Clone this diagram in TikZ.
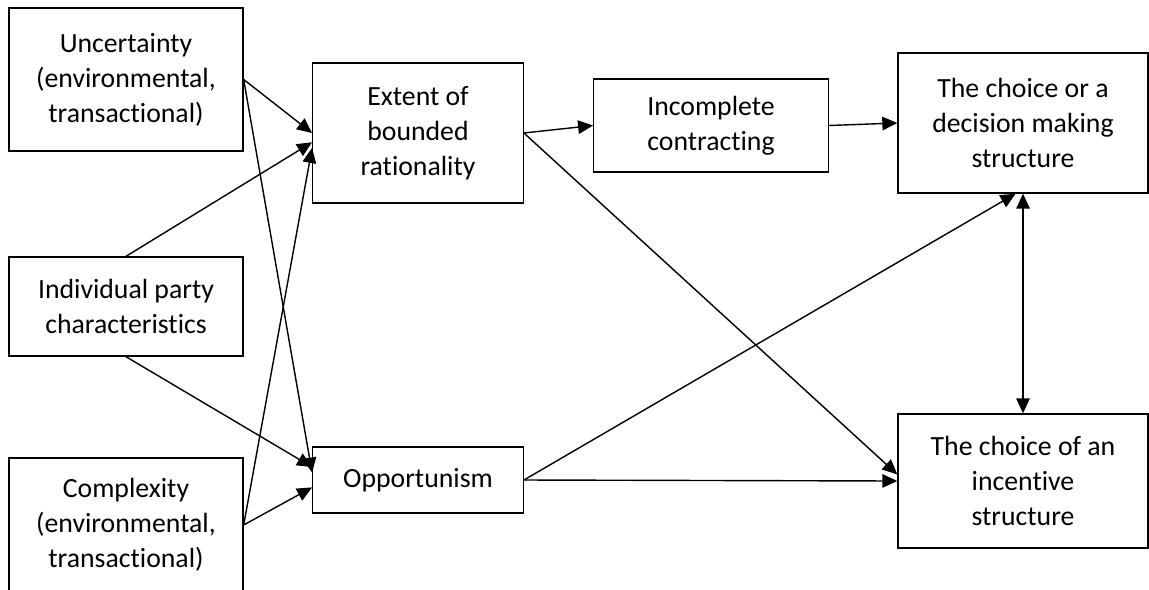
\documentclass[tikz,border=0pt]{standalone}
\usepackage{fontspec}
\setmainfont{Carlito}[Ligatures=NoCommon]
\usetikzlibrary{arrows.meta,positioning}

\begin{document}
\begin{tikzpicture}[x=0.02cm,y=-0.02cm,
  box/.style={draw,line width=0.8pt,align=center,inner sep=0pt,font=\fontsize{15.8}{19.9}\selectfont},
  arr/.style={-{Triangle[length=0.3cm,width=0.27cm]},line width=0.8pt},
  darr/.style={{Triangle[length=0.3cm,width=0.27cm]}-{Triangle[length=0.3cm,width=0.27cm]},line width=0.8pt}]
\useasboundingbox (0,0) rectangle (1149,589);
\node[box,minimum width=4.68cm,minimum height=2.86cm] (unc) at (126,79.5) {Uncertainty\\(environmental,\\transactional)};
\node[box,minimum width=4.68cm,minimum height=1.98cm] (ind) at (126,306.5) {Individual party\\characteristics};
\node[box,minimum width=4.68cm,minimum height=2.68cm] (cpx) at (126,525) {Complexity\\(environmental,\\transactional)};
\node[box,minimum width=4.21cm,minimum height=2.8cm] (ext) at (418,133) {Extent of\\bounded\\rationality};
\node[box,minimum width=4.21cm,minimum height=1.32cm] (opp) at (418,480) {Opportunism};
\node[box,minimum width=4.69cm,minimum height=1.86cm] (inc) at (711,125.5) {Incomplete\\contracting};
\node[box,minimum width=5cm,minimum height=2.8cm] (dec) at (1023,123) {The choice or a\\decision making\\structure};
\node[box,minimum width=5cm,minimum height=2.68cm] (icv) at (1023,481) {The choice of an\\incentive\\structure};
\draw[arr] (unc.east) -- (ext.west);
\draw[arr] (unc.east) -- (opp.176);
\draw[arr] (ind.north) -- (ext.185);
\draw[arr] (ind.south) -- (opp.173);
\draw[arr] (cpx.east) -- (ext.188);
\draw[arr] (cpx.east) -- (opp.184);
\draw[arr] (ext.east) -- (inc.west);
\draw[arr] (ext.east) -- (icv.177);
\draw[arr] (inc.east) -- (dec.west);
\draw[arr] (opp.east) -- (dec.264);
\draw[arr] (opp.east) -- (icv.west);
\draw[darr] (dec.south) -- (icv.north);
\end{tikzpicture}
\end{document}
